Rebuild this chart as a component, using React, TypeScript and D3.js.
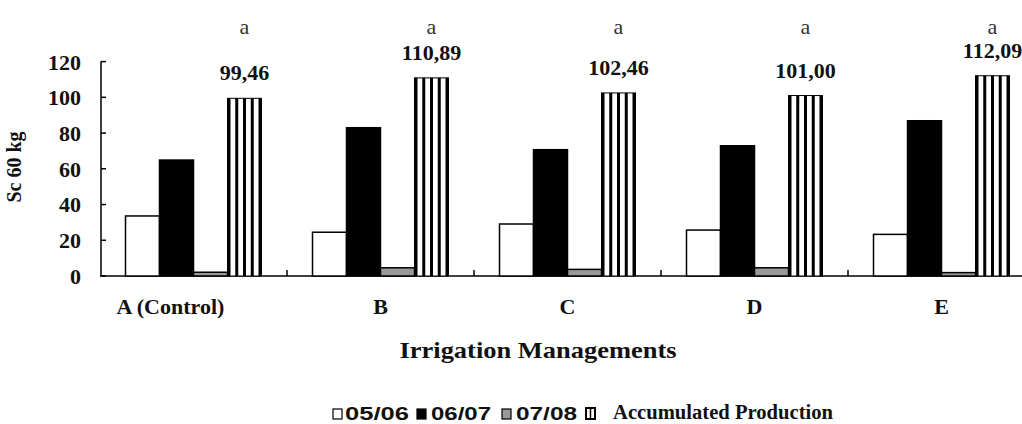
import React from "react";
import * as d3 from "d3";

const categories = ["A (Control)", "B", "C", "D", "E"];
const seriesNames = ["05/06", "06/07", "07/08", "Accumulated Production"];
const s0506 = [33.6, 24.5, 29.1, 25.7, 23.3];
const s0607 = [64.9, 83.0, 70.7, 72.9, 86.9];
const s0708 = [2.1, 4.6, 3.7, 4.6, 1.9];
const accumulated = [99.46, 110.89, 102.46, 101.0, 112.09];
const accumLabels = ["99,46", "110,89", "102,46", "101,00", "112,09"];
const letters = ["a", "a", "a", "a", "a"];
const yTicks = [0, 20, 40, 60, 80, 100, 120];

const W = 1022;
const H = 424;
const serif = "'Liberation Serif', 'Times New Roman', serif";
const sans = "'Liberation Sans', Arial, sans-serif";

export default function App() {
  const x = d3.scaleBand<string>().domain(categories).range([100, 1035]).padding(0);
  const xs = d3.scaleBand<string>().domain(seriesNames).range([0, x.bandwidth()]).paddingOuter(0.75).paddingInner(0);
  const y = d3.scaleLinear().domain([0, 120]).range([276, 61.6]);
  const series = [s0506, s0607, s0708, accumulated];
  const fills = ["#ffffff", "#000000", "#999999", "#ffffff"];
  const bw = xs.bandwidth();

  const bars: React.ReactNode[] = [];
  categories.forEach((c, ci) => {
    series.forEach((vals, si) => {
      const name = seriesNames[si];
      const x0 = (x(c) as number) + (xs(name) as number);
      const y0 = y(vals[ci]);
      const h = y(0) - y0;
      if (si === 3) {
        bars.push(
          <rect key={`b${ci}-${si}`} x={x0} y={y0} width={bw} height={h} fill="#fff" stroke="#000" strokeWidth={1} />
        );
        for (let k = 0; k < 5; k++) {
          bars.push(
            <rect key={`h${ci}-${k}`} x={x0 + k * ((bw - 3) / 4)} y={y0} width={3} height={h} fill="#000" />
          );
        }
      } else {
        bars.push(
          <rect key={`b${ci}-${si}`} x={x0} y={y0} width={bw} height={h}
            fill={fills[si]} stroke="#000" strokeWidth={1.5} />
        );
      }
    });
  });

  const xAcc = (ci: number) => (x(categories[ci]) as number) + (xs(seriesNames[3]) as number) + bw / 2;

  return (
    <svg width={W} height={H} style={{ position: "absolute", left: 0, top: 0, background: "#fff" }}>
      <line x1={101} x2={101} y1={y(120)} y2={y(0)} stroke="#000" strokeWidth={1.5} />
      {yTicks.map((t) => (
        <g key={t}>
          <line x1={101} x2={106} y1={y(t)} y2={y(t)} stroke="#000" strokeWidth={1.5} />
          <text x={81} y={y(t)} dy="0.36em" textAnchor="end" fontFamily={serif} fontWeight="bold" fontSize={22} fill="#111">{t}</text>
        </g>
      ))}
      <line x1={100} x2={W} y1={y(0)} y2={y(0)} stroke="#000" strokeWidth={1.5} />
      {categories.slice(1).map((c) => (
        <line key={c} x1={x(c)} x2={x(c)} y1={y(0)} y2={y(0) - 6} stroke="#000" strokeWidth={1.5} />
      ))}
      {bars}
      {accumulated.map((v, ci) => (
        <text key={`v${ci}`} x={xAcc(ci)} y={y(v) - 18} textAnchor="middle" fontFamily={serif} fontWeight="bold" fontSize={22} fill="#111">{accumLabels[ci]}</text>
      ))}
      {letters.map((l, ci) => (
        <text key={`l${ci}`} x={xAcc(ci)} y={34} textAnchor="middle" fontFamily={serif} fontSize={22} fill="#333">{l}</text>
      ))}
      {categories.map((c, ci) => (
        <text key={`c${ci}`} x={(x(c) as number) + x.bandwidth() / 2} dx={ci === 0 ? -23 : 0} y={314} textAnchor="middle" fontFamily={serif} fontWeight="bold" fontSize={22} fill="#111">{c}</text>
      ))}
      <text x={538} y={358} textAnchor="middle" fontFamily={serif} fontWeight="bold" fontSize={24} textLength={277} lengthAdjust="spacingAndGlyphs" fill="#111">Irrigation Managements</text>
      <text transform="translate(21,167) rotate(-90)" textAnchor="middle" fontFamily={serif} fontWeight="bold" fontSize={20} fill="#111">Sc 60 kg</text>
      <g>
        <rect x={333} y={409} width={9} height={10} fill="#fff" stroke="#000" strokeWidth={1.2} />
        <text x={345} y={420} fontFamily={sans} fontWeight="bold" fontSize={18} textLength={64} lengthAdjust="spacingAndGlyphs" fill="#111">{seriesNames[0]}</text>
        <rect x={417} y={409} width={9} height={10} fill="#000" stroke="#000" strokeWidth={1.2} />
        <text x={431} y={420} fontFamily={sans} fontWeight="bold" fontSize={18} textLength={60} lengthAdjust="spacingAndGlyphs" fill="#111">{seriesNames[1]}</text>
        <rect x={502} y={409} width={9} height={10} fill="#999" stroke="#000" strokeWidth={1.2} />
        <text x={516} y={420} fontFamily={sans} fontWeight="bold" fontSize={18} textLength={61} lengthAdjust="spacingAndGlyphs" fill="#111">{seriesNames[2]}</text>
        <rect x={586} y={408} width={9} height={11} fill="#fff" stroke="#000" strokeWidth={2} />
        <line x1={590.5} x2={590.5} y1={408} y2={419} stroke="#000" strokeWidth={1.5} />
        <text x={613} y={419} fontFamily={serif} fontWeight="bold" fontSize={20} textLength={220} lengthAdjust="spacingAndGlyphs" fill="#111">{seriesNames[3]}</text>
      </g>
    </svg>
  );
}
